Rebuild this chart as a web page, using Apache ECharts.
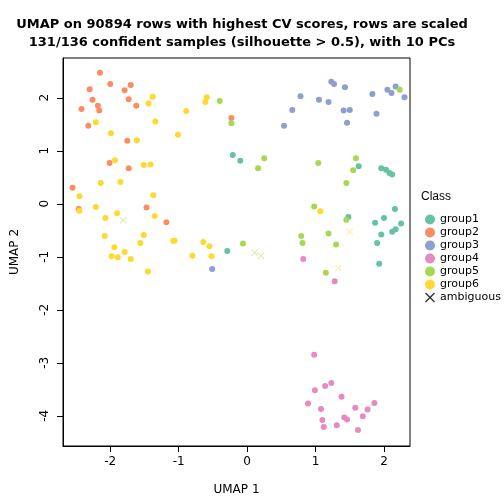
<!DOCTYPE html>
<html>
<head>
<meta charset="utf-8">
<script src="https://cdn.jsdelivr.net/npm/echarts@6/dist/echarts.min.js"></script>
<style>html,body{margin:0;padding:0;background:#fff}#main{width:504px;height:504px}</style>
</head>
<body>
<div id="main"></div>
<script>
// points as [x, y]
const group1 = [[-0.21,0.92],[-0.10,0.81],[-0.29,-0.89],[1.63,0.71],[1.96,0.67],[2.03,0.64],[2.08,0.58],[2.12,0.55],
  [1.48,-0.25],[2.16,-0.10],[2.00,-0.27],[1.87,-0.36],[2.25,-0.37],[2.17,-0.48],[2.12,-0.53],[1.96,-0.58],[1.90,-0.74],[1.93,-1.13]];
const group2 = [[-2.15,2.47],[-2.00,2.26],[-1.70,2.24],[-2.30,2.16],[-1.79,2.14],[-2.26,1.96],[-1.73,1.97],[-2.18,1.85],
  [-1.62,1.85],[-2.16,1.76],[-2.42,1.79],[-2.32,1.47],[-1.75,1.19],[-0.23,1.62],[-2.01,0.77],[-1.73,0.67],[-2.55,0.30],
  [-2.46,-0.10],[-1.47,-0.07],[-1.18,-0.35]];
const group3 = [[1.23,2.30],[1.27,2.26],[1.43,2.20],[0.78,2.03],[1.05,1.96],[1.19,1.92],[0.66,1.77],[1.41,1.76],[1.50,1.77],
  [0.54,1.47],[1.46,1.53],[1.83,2.07],[1.89,1.70],[2.05,2.15],[2.11,2.09],[2.17,2.21],[2.30,2.01],[-0.51,-1.23]];
const group4 = [[0.82,-1.04],[1.28,-1.46],[0.98,-2.85],[1.23,-3.38],[1.14,-3.44],[0.99,-3.52],[1.38,-3.64],[0.89,-3.77],
  [1.86,-3.76],[1.08,-3.87],[1.58,-3.85],[1.76,-3.88],[1.69,-4.01],[1.42,-4.03],[1.46,-4.07],[1.10,-4.08],[1.31,-4.18],
  [1.12,-4.21],[1.62,-4.27]];
const group5 = [[-0.40,1.94],[-0.23,1.52],[2.23,2.15],[0.25,0.86],[0.16,0.67],[1.04,0.77],[1.59,0.86],[1.55,0.63],[1.45,0.39],
  [0.98,-0.05],[1.45,-0.30],[0.79,-0.61],[0.81,-0.74],[1.19,-0.56],[1.30,-0.77],[-0.06,-0.75],[1.15,-1.30]];
const group6 = [[-1.38,2.02],[-1.44,1.89],[-0.59,2.01],[-0.61,1.92],[-0.89,1.75],[-2.21,1.54],[-1.34,1.55],[-1.99,1.33],
  [-1.61,1.20],[-1.01,1.30],[-1.93,0.82],[-1.51,0.73],[-1.41,0.74],[-2.14,0.39],[-1.85,0.41],[-2.45,0.14],[-1.37,0.16],
  [-2.45,-0.13],[-2.21,-0.06],[-2.07,-0.27],[-1.90,-0.18],[-1.35,-0.23],[-2.08,-0.61],[-1.51,-0.59],[-1.56,-0.74],
  [-1.08,-0.70],[-1.06,-0.70],[-1.94,-0.82],[-1.79,-0.91],[-1.98,-0.99],[-1.89,-1.01],[-1.70,-1.04],[-1.45,-1.28],
  [-0.64,-0.72],[-0.55,-0.80],[-0.80,-0.98],[-0.52,-0.99],[1.07,-0.14]];
// ambiguous: [x, y, closest group]
const ambiguous = [[-1.81,-0.31,'group5'],[0.11,-0.92,'group5'],[0.20,-0.98,'group5'],[1.50,-0.53,'group6'],[1.33,-1.21,'group6']];
const xTicks = [-2, -1, 0, 1, 2];
const yTicks = [-4, -3, -2, -1, 0, 1, 2];

const colors = {group1:'#66C2A5', group2:'#FC8D62', group3:'#8DA0CB', group4:'#E78AC3', group5:'#A6D854', group6:'#FFD92F'};
const lightColors = {group5:'#CBE89A', group6:'#FFE87A'};
const crossIcon = 'path://M1,0L5,4L9,0L10,1L6,5L10,9L9,10L5,6L1,10L0,9L4,5L0,1Z';

const chart = echarts.init(document.getElementById('main'));
const groups = {group1, group2, group3, group4, group5, group6};
const series = Object.keys(groups).map(name => ({
  name, type: 'scatter', data: groups[name], symbol: 'circle', symbolSize: 6,
  itemStyle: {color: colors[name], opacity: 1}
}));
series.push({
  name: 'ambiguous', type: 'scatter', symbol: crossIcon, symbolSize: 7,
  itemStyle: {color: '#000'},
  data: ambiguous.map(a => ({value: [a[0], a[1]], itemStyle: {color: lightColors[a[2]]}}))
});

chart.setOption({
  animation: false,
  textStyle: {fontFamily: 'DejaVu Sans, sans-serif'},
  title: {
    text: 'UMAP on 90894 rows with highest CV scores, rows are scaled\n131/136 confident samples (silhouette > 0.5), with 10 PCs',
    left: 237, top: 11, textAlign: 'center',
    textStyle: {fontSize: 13, fontWeight: 'bold', lineHeight: 18, color: '#000'}
  },
  legend: {
    orient: 'vertical', left: 420, top: 209, itemGap: 2, itemWidth: 10, itemHeight: 10,
    textStyle: {fontSize: 11, color: '#000'},
    data: ['group1','group2','group3','group4','group5','group6'].map(n => ({name: n, icon: 'circle'}))
      .concat([{name: 'ambiguous', icon: crossIcon, itemStyle: {color: '#000'}}])
  },
  graphic: [
    {type: 'text', left: 421, top: 191, style: {text: 'Class', fontSize: 12, fill: '#000'}}
  ],
  grid: {left: 63, right: 94, top: 58, bottom: 58, show: true, borderColor: '#000', borderWidth: 1},
  xAxis: {
    type: 'value', position: 'bottom', min: -2.69, max: 2.38, name: 'UMAP 1', nameLocation: 'middle', nameGap: 38,
    nameTextStyle: {fontSize: 12, color: '#000'},
    splitLine: {show: false}, axisLine: {show: true, onZero: false, lineStyle: {color: '#000'}},
    axisTick: {show: true, inside: false, length: 6, customValues: xTicks, lineStyle: {color: '#000'}},
    axisLabel: {customValues: xTicks, fontSize: 12, color: '#000', margin: 10}
  },
  yAxis: {
    type: 'value', position: 'left', min: -4.57, max: 2.75, name: 'UMAP 2', nameLocation: 'middle', nameGap: 42,
    nameTextStyle: {fontSize: 12, color: '#000'},
    splitLine: {show: false}, axisLine: {show: true, onZero: false, lineStyle: {color: '#000'}},
    axisTick: {show: true, inside: false, length: 6, customValues: yTicks, lineStyle: {color: '#000'}},
    axisLabel: {customValues: yTicks, fontSize: 12, color: '#000', rotate: 90, margin: 12}
  },
  series
});
</script>
</body>
</html>
